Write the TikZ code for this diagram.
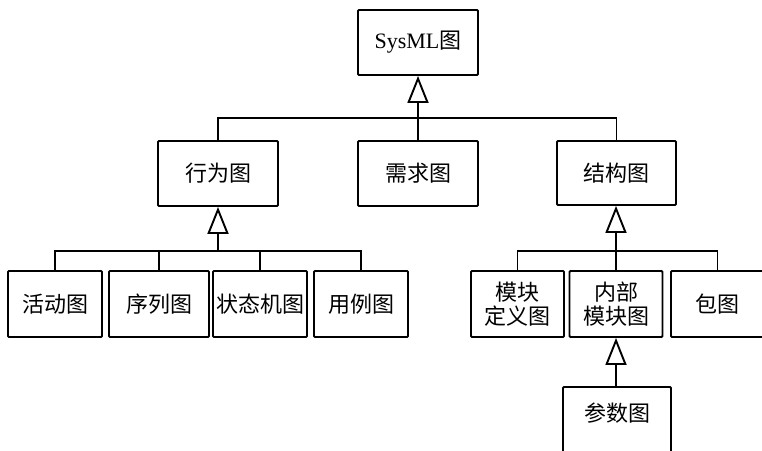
\documentclass[tikz,border=0pt]{standalone}
\usepackage{fontspec}
\setmainfont{Liberation Serif}
\newfontfamily\cjk{Noto Sans CJK SC}
\usetikzlibrary{arrows.meta}
\tikzset{
  box/.style={draw, line width=1.9pt, rounded corners=1pt, inner sep=0pt, align=center,
    font=\fontsize{22}{24}\selectfont\cjk},
  link/.style={line width=1.9pt},
  gen/.style={line width=1.9pt, -{Triangle[open, length=27pt, width=21pt]}},
}
\begin{document}
\begin{tikzpicture}[x=1pt, y=-1pt]
\useasboundingbox (0,0) rectangle (762,450);
\clip (0,0) rectangle (762,450);
% top
\node[box, minimum width=120pt, minimum height=65pt] (sys) at (418,42.5) {{\rmfamily SysML}图};
% second row
\node[box, minimum width=120pt, minimum height=65pt] (beh) at (218,173.5) {行为图};
\node[box, minimum width=120pt, minimum height=65pt] (req) at (418,173.5) {需求图};
\node[box, minimum width=119pt, minimum height=64pt] (str) at (616.5,173) {结构图};
% behaviour children
\node[box, minimum width=94pt, minimum height=66pt] (act) at (55,304) {活动图};
\node[box, minimum width=100pt, minimum height=66pt] (seq) at (159,304) {序列图};
\node[box, minimum width=94pt, minimum height=66pt] (stm) at (260,304) {状态机图};
\node[box, minimum width=94pt, minimum height=66pt] (uc) at (361,304) {用例图};
% structure children
\node[box, minimum width=93pt, minimum height=66pt] (bdd) at (517.5,304) {模块\\定义图};
\node[box, minimum width=93pt, minimum height=66pt] (ibd) at (616,304) {内部\\模块图};
\node[box, minimum width=93pt, minimum height=66pt] (pkg) at (717.5,304) {包图};
\node[box, minimum width=108pt, minimum height=110pt, anchor=north] (par) at (617,386) {};
\node[font=\fontsize{22}{24}\selectfont\cjk, inner sep=0pt] (partxt) at (617,413) {参数图};
% coordinates for bars
\coordinate (bar1) at (418,118);
\coordinate (bar2) at (218,251);
\coordinate (bar3) at (616,251);
% top level
\draw[link] (str.north) |- (bar1);
\draw[link] (req.north) -- (bar1);
\draw[gen] (beh.north) |- (bar1) -- (sys.south);
% behaviour
\draw[link] (act.north) |- (bar2);
\draw[link] (seq.north) |- (bar2);
\draw[link] (stm.north) |- (bar2);
\draw[link] (uc.north) |- (bar2);
\draw[gen] (bar2) -- (beh.south);
% structure
\draw[link] (bdd.north) |- (bar3);
\draw[link] (pkg.north) |- (bar3);
\draw[link] (ibd.north) -- (bar3);
\draw[gen] (bar3) -- (str.south -| bar3);
% ibd to parametric
\draw[gen] (par.north -| ibd.south) -- (ibd.south);
\end{tikzpicture}
\end{document}
